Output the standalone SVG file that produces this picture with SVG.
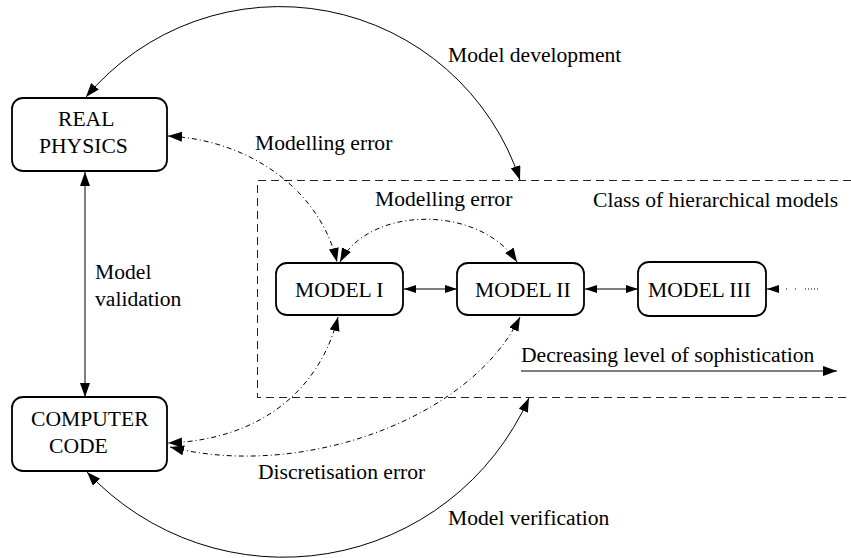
<svg xmlns="http://www.w3.org/2000/svg" width="851" height="558" viewBox="0 0 851 558">
<defs>
<style>
text{font-family:"Liberation Serif","Times New Roman",serif;font-size:21.6px;fill:#000}
.node{fill:#fff;stroke:#000;stroke-width:1.8}
.solid{fill:none;stroke:#000;stroke-width:1}
.dd{fill:none;stroke:#000;stroke-width:1;stroke-dasharray:5 3 1 3}
.box{fill:none;stroke:#222;stroke-width:1;stroke-dasharray:8 5}
</style>
<marker id="ah" markerUnits="userSpaceOnUse" markerWidth="16" markerHeight="12" refX="14" refY="5" orient="auto-start-reverse" viewBox="0 0 16 12">
<path d="M0,0 L14,5 L0,10 z" fill="#000"/>
</marker>
<marker id="as" markerUnits="userSpaceOnUse" markerWidth="14" markerHeight="10" refX="12" refY="4" orient="auto-start-reverse" viewBox="0 0 14 10">
<path d="M0,0 L12,4 L0,8 z" fill="#000"/>
</marker>
</defs>
<rect width="851" height="558" fill="#fff"/>
<g id="class-box">
<path class="box" d="M851 180.5 H257.5 V397.5 H851"/>
<text x="593" y="207">Class of hierarchical models</text>
</g>
<g id="connectors">
<path class="solid" d="M86 97 A253 253 0 0 1 520 180" marker-start="url(#ah)" marker-end="url(#ah)"/>
<path class="solid" d="M87 472 A269 269 0 0 0 529 398" marker-start="url(#ah)" marker-end="url(#ah)"/>
<path class="solid" d="M85 172 V397" marker-start="url(#ah)" marker-end="url(#ah)"/>
<path class="dd" d="M168 136 C250 140 320 190 337 262" marker-start="url(#ah)" marker-end="url(#ah)"/>
<path class="dd" d="M340 262 C370 205 480 205 517 262" marker-start="url(#ah)" marker-end="url(#ah)"/>
<path class="dd" d="M338 317 C320 390 260 440 168 443" marker-start="url(#ah)" marker-end="url(#ah)"/>
<path class="dd" d="M520 317 C470 420 300 480 170 447" marker-start="url(#ah)" marker-end="url(#ah)"/>
<path class="solid" d="M404 289 H457" marker-start="url(#as)" marker-end="url(#as)"/>
<path class="solid" d="M585 289 H638" marker-start="url(#as)" marker-end="url(#as)"/>
<path class="solid" d="M777 289 H767" marker-end="url(#as)"/>
<path class="solid" d="M786 289 H819" stroke-dasharray="1 8 1 9 1 2 1 2 1 2 1 2 1"/>
<path class="solid" d="M521 371 H837" marker-end="url(#ah)"/>
</g>
<g id="labels">
<text x="448" y="62">Model development</text>
<text x="255" y="150">Modelling error</text>
<text x="375" y="206">Modelling error</text>
<text x="95" y="279">Model</text>
<text x="95" y="306">validation</text>
<text x="521" y="362">Decreasing level of sophistication</text>
<text x="258" y="479">Discretisation error</text>
<text x="448" y="525">Model verification</text>
</g>
<g id="real-physics">
<rect class="node" x="12" y="98" width="155" height="73" rx="11"/>
<text x="58" y="126">REAL</text>
<text x="39" y="153">PHYSICS</text>
</g>
<g id="computer-code">
<rect class="node" x="12" y="397" width="155" height="74" rx="11"/>
<text x="31" y="426">COMPUTER</text>
<text x="49" y="453">CODE</text>
</g>
<g id="model-1">
<rect class="node" x="276" y="263" width="127" height="52" rx="11"/>
<text x="295" y="297">MODEL I</text>
</g>
<g id="model-2">
<rect class="node" x="457" y="263" width="127" height="52" rx="11"/>
<text x="475" y="297">MODEL II</text>
</g>
<g id="model-3">
<rect class="node" x="638" y="262" width="128" height="54" rx="11"/>
<text x="648" y="297">MODEL III</text>
</g>
</svg>
